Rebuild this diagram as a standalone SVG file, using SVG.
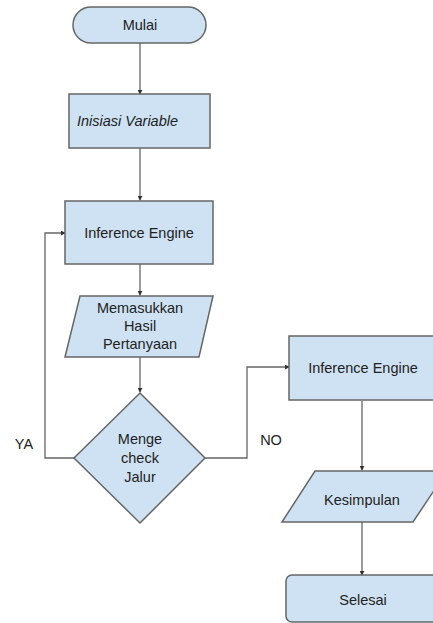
<svg xmlns="http://www.w3.org/2000/svg" width="433" height="623" viewBox="0 0 433 623">
<defs>
<style>
.n{fill:#cfe2f3;stroke:#666;stroke-width:1.5}
.t{font-family:"Liberation Sans",Arial,sans-serif;font-size:14.5px;fill:#222;text-anchor:middle}
.c{fill:none;stroke:#666;stroke-width:1.3}
</style>
<marker id="a" viewBox="0 0 6 6" refX="5" refY="3" markerWidth="5" markerHeight="5" orient="auto" markerUnits="userSpaceOnUse">
<path d="M0,0 L6,3 L0,6 z" fill="#333"/>
</marker>
</defs>
<rect width="433" height="623" fill="#fff"/>
<g id="connectors">
<path class="c" d="M140,43 V94" marker-end="url(#a)"/>
<path class="c" d="M140,148 V200" marker-end="url(#a)"/>
<path class="c" d="M140,264 V295" marker-end="url(#a)"/>
<path class="c" d="M140,357 V392" marker-end="url(#a)"/>
<path class="c" d="M74,458 H45 V233 H65" marker-end="url(#a)"/>
<path class="c" d="M205,458 H247 V367 H289" marker-end="url(#a)"/>
<path class="c" d="M362,401 V470" marker-end="url(#a)"/>
<path class="c" d="M362,522 V575" marker-end="url(#a)"/>
<text class="t" x="24" y="449">YA</text>
<text class="t" x="271" y="445">NO</text>
</g>
<g id="mulai">
<rect class="n" x="73" y="7" width="133" height="36" rx="18"/>
<text class="t" x="140" y="30">Mulai</text>
</g>
<g id="inisiasi">
<rect class="n" x="69" y="94" width="141" height="54"/>
<text class="t" x="77" y="126" style="text-anchor:start;font-style:italic">Inisiasi Variable</text>
</g>
<g id="inference1">
<rect class="n" x="65" y="201" width="148" height="63"/>
<text class="t" x="139" y="238">Inference Engine</text>
</g>
<g id="memasukkan">
<polygon class="n" points="80,296 213,296 199,357 65,357"/>
<text class="t" x="140" y="313">Memasukkan</text>
<text class="t" x="140" y="331">Hasil</text>
<text class="t" x="140" y="349">Pertanyaan</text>
</g>
<g id="cek">
<polygon class="n" points="140,393 205,458 140,523 74,458"/>
<text class="t" x="140" y="444">Menge</text>
<text class="t" x="140" y="463">check</text>
<text class="t" x="140" y="482">Jalur</text>
</g>
<g id="inference2">
<rect class="n" x="289" y="336" width="150" height="64"/>
<text class="t" x="363" y="373">Inference Engine</text>
</g>
<g id="kesimpulan">
<polygon class="n" points="315,471 447,471 413,522 282,522"/>
<text class="t" x="362" y="505">Kesimpulan</text>
</g>
<g id="selesai">
<rect class="n" x="286" y="575" width="155" height="47" rx="6"/>
<text class="t" x="363" y="605">Selesai</text>
</g>
</svg>
